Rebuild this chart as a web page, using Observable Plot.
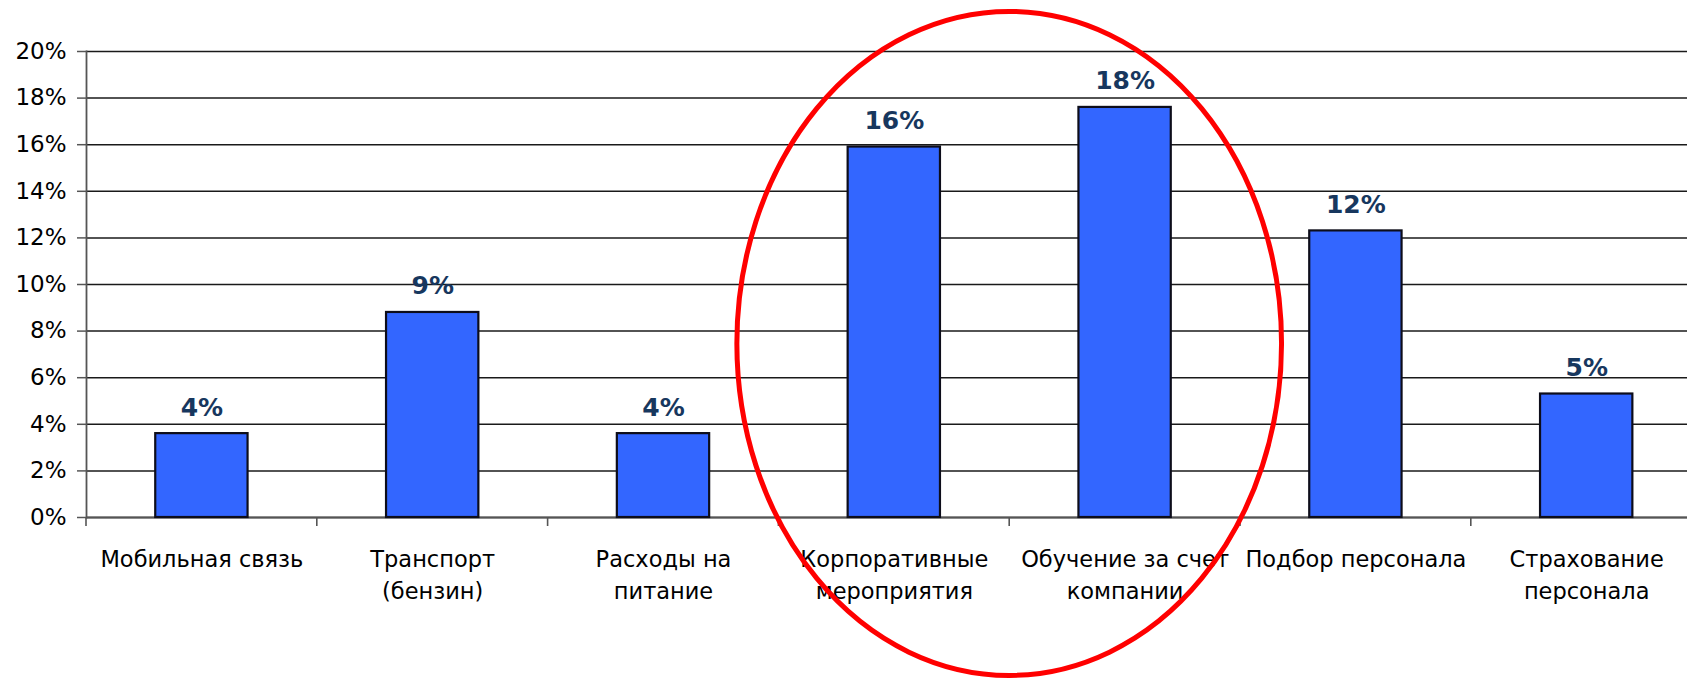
<!DOCTYPE html>
<html><head><meta charset="utf-8">
<script src="https://cdn.jsdelivr.net/npm/d3@7"></script>
<script src="https://cdn.jsdelivr.net/npm/@observablehq/plot@0.6"></script>
<style>
html,body{margin:0;padding:0;background:#fff;}
#chart svg{display:block;}
</style>
</head><body><div id="chart"></div>
<script>
// ---- data ----
const categories = ["Мобильная связь", "Транспорт (бензин)", "Расходы на питание", "Корпоративные мероприятия", "Обучение за счет компании", "Подбор персонала", "Страхование персонала"];
const tickLabels = ["Мобильная связь", "Транспорт\n(бензин)", "Расходы на\nпитание", "Корпоративные\nмероприятия", "Обучение за счет\nкомпании", "Подбор персонала", "Страхование\nперсонала"];
const values = [3.6, 8.8, 3.6, 15.9, 17.6, 12.3, 5.3];
const valueLabels = ["4%", "9%", "4%", "16%", "18%", "12%", "5%"];
const yTicks = [0, 2, 4, 6, 8, 10, 12, 14, 16, 18, 20];
const highlighted = ["Корпоративные мероприятия", "Обучение за счет компании"];
// highlight ellipse in data units: centre height (%) and half-height (%), half-width in bands
const highlightCenterY = 7.45;
const highlightHalfY = 14.25;
const highlightHalfBands = 1.18;

const data = categories.map((c, i) => ({category: c, value: values[i], label: valueLabels[i]}));
const FONT = "DejaVu Sans, Verdana, sans-serif";

const plot = Plot.plot({
  width: 1687,
  height: 678,
  marginLeft: 86,
  marginRight: 0,
  marginTop: 51,
  marginBottom: 161,
  style: {fontFamily: FONT, background: "#fff", overflow: "visible"},
  x: {domain: categories, range: [86, 1701.6], paddingInner: 0.6, paddingOuter: 0.3, round: false},
  y: {domain: [0, 20]},
  marks: [
    Plot.gridY(yTicks, {stroke: "#1a1a1a", strokeOpacity: 1, strokeWidth: 1.5}),
    Plot.frame({anchor: "left", stroke: "#555", strokeWidth: 1.8}),
    Plot.ruleY([0], {stroke: "#555", strokeWidth: 1.8}),
    Plot.barY(data, {x: "category", y: "value", fill: "#3366FF", stroke: "#0d0d1a", strokeWidth: 2.2}),
    Plot.text(data, {x: "category", y: "value", text: "label", lineAnchor: "bottom", dy: -18,
      fontSize: 25, fontWeight: "bold", fill: "#17375E"}),
    Plot.axisY({ticks: yTicks, tickFormat: d => d + "%", tickSize: 9, tickPadding: 11,
      fontSize: 23, fill: "#000", stroke: "#555", strokeWidth: 1.5, strokeOpacity: 1, label: null}),
    Plot.axisX({tickSize: 0, tickPadding: 27, tickFormat: (d) => tickLabels[categories.indexOf(d)],
      fontSize: 22.5, fill: "#000", lineHeight: 1.42, label: null})
  ]
});
document.getElementById("chart").appendChild(plot);

// boundary ticks on the x axis and the highlight ellipse, placed through the plot's own scales
const xs = plot.scale("x"), ys = plot.scale("y");
const svg = d3.select(plot);
const step = xs.step, bw = xs.bandwidth;
const y0 = ys.apply(0);
const bounds = categories.map(c => xs.apply(c) - (step - bw) / 2);
svg.append("g").attr("stroke", "#555").attr("stroke-width", 1.6)
  .selectAll("line").data(bounds).join("line")
  .attr("x1", d => d).attr("x2", d => d).attr("y1", y0).attr("y2", y0 + 9);

const cx = (xs.apply(highlighted[0]) + xs.apply(highlighted[1]) + bw) / 2;
const cy = ys.apply(highlightCenterY);
const ry = Math.abs(ys.apply(highlightCenterY + highlightHalfY) - cy);
svg.append("ellipse").attr("cx", cx).attr("cy", cy).attr("rx", highlightHalfBands * step).attr("ry", ry)
  .attr("fill", "none").attr("stroke", "#FF0000").attr("stroke-width", 5);
</script>
</body></html>
